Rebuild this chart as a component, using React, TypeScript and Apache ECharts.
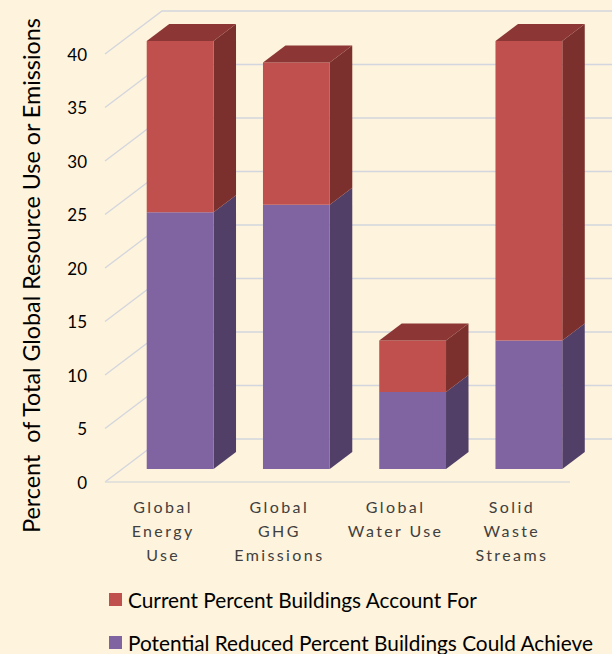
import React, { useEffect, useRef } from "react";
import * as echarts from "echarts";

const categories = ["Global\nEnergy\nUse", "Global\nGHG\nEmissions", "Global\nWater Use", "Solid\nWaste\nStreams"];
const potentialReduced = [24, 24.7, 7.2, 12];
const currentExtra = [16, 13.3, 4.8, 28];
const wallTicks = [0, 5, 10, 15, 20, 25, 30, 35, 40];
const RED_NAME = "Current Percent Buildings Account For";
const PURPLE_NAME = "Potential Reduced Percent Buildings Could Achieve";
const BG = "#fef3dc";
const WALL_LINE = "#d3d6de";
const WALL_DX = 57, WALL_DY = -43;
const BAR_DX = 17, BAR_DY = -13, BAR_HALF = 33.4, SIDE_DX = 22.5, SIDE_DY = -17;

const shape = (points: number[][], fill: string) => ({
  type: "polygon", shape: { points }, style: { fill, stroke: "none" },
});

const barRender = (front: string, side: string, top: string | null) => (params: any, api: any) => {
  const cat = api.value(0);
  const a = api.coord([cat, api.value(1)]);
  const b = api.coord([cat, api.value(2)]);
  const x0 = a[0] + BAR_DX - BAR_HALF, x1 = a[0] + BAR_DX + BAR_HALF;
  const yB = a[1] + BAR_DY, yT = b[1] + BAR_DY;
  const children: any[] = [
    shape([[x1, yB], [x1 + SIDE_DX, yB + SIDE_DY], [x1 + SIDE_DX, yT + SIDE_DY], [x1, yT]], side),
    shape([[x0, yB], [x1, yB], [x1, yT], [x0, yT]], front),
  ];
  if (top) children.push(shape([[x0, yT], [x1, yT], [x1 + SIDE_DX, yT + SIDE_DY], [x0 + SIDE_DX, yT + SIDE_DY]], top));
  return { type: "group", children };
};

const wallRender = (params: any, api: any) => {
  const v = api.value(0);
  const y = api.coord([0, v])[1];
  const cs = params.coordSys;
  const style = { stroke: WALL_LINE, lineWidth: 1.3, fill: "none" };
  const children: any[] = [
    { type: "polyline", shape: { points: [[cs.x, y], [cs.x + WALL_DX, y + WALL_DY], [cs.x + cs.width + WALL_DX, y + WALL_DY]] }, style },
  ];
  if (v === 0) children.push({ type: "line", shape: { x1: cs.x, y1: y, x2: cs.x + cs.width, y2: y }, style: { stroke: "#dcdcdc", lineWidth: 1.6 } });
  return { type: "group", children };
};

export default function App() {
  const ref = useRef<HTMLDivElement>(null);
  useEffect(() => {
    const chart = echarts.init(ref.current!, null, { renderer: "svg" });
    chart.setOption({
      animation: false,
      backgroundColor: BG,
      textStyle: { fontFamily: "Lato" },
      grid: { left: 105, top: 54, width: 465, height: 428 },
      xAxis: {
        type: "category", data: categories,
        axisLine: { show: false }, axisTick: { show: false },
        axisLabel: { color: "#404040", fontSize: 16, lineHeight: 24, margin: 12, fontFamily: "Lato, sans-serif", interval: 0 },
      },
      yAxis: {
        type: "value", min: 0, max: 40, interval: 5,
        name: "Percent  of Total Global Resource Use or Emissions",
        nameLocation: "middle", nameGap: 63, nameRotate: 90,
        nameTextStyle: { color: "#000", fontSize: 23.3, fontFamily: "Lato", padding: [0, 15, 0, 0] },
        axisLine: { show: false }, axisTick: { show: false }, splitLine: { show: false },
        axisLabel: { color: "#000", fontSize: 17, margin: 18, fontFamily: "Lato" },
      },
      legend: {
        left: 109, top: 589, height: 70, padding: 0, orient: "vertical", itemWidth: 13, itemHeight: 13, itemGap: 22, icon: "rect",
        data: [RED_NAME, PURPLE_NAME],
        textStyle: { color: "#000", fontSize: 20.8, fontFamily: "Lato", padding: [0, 0, 0, 1] },
      },
      series: [
        { type: "custom", name: "wall", silent: true, z: 1, coordinateSystem: "cartesian2d", encode: { y: 0 },
          renderItem: wallRender, data: wallTicks.map((t) => [t]) },
        { type: "custom", name: PURPLE_NAME, z: 2, itemStyle: { color: "#8064a2" },
          encode: { x: 0, y: [1, 2] },
          renderItem: barRender("#8064a2", "#513f68", null),
          data: potentialReduced.map((v, i) => [i, 0, v]) },
        { type: "custom", name: RED_NAME, z: 3, itemStyle: { color: "#c0504d" },
          encode: { x: 0, y: [1, 2] },
          renderItem: barRender("#c0504d", "#7c302e", "#8c3735"),
          data: currentExtra.map((v, i) => [i, potentialReduced[i], potentialReduced[i] + v]) },
      ],
    });
    return () => chart.dispose();
  }, []);
  return (
    <>
      <style>{`text[style*="sans-serif"]{letter-spacing:2.4px}`}</style>
      <div ref={ref} style={{ position: "absolute", left: 0, top: 0, width: 612, height: 654 }} />
    </>
  );
}
